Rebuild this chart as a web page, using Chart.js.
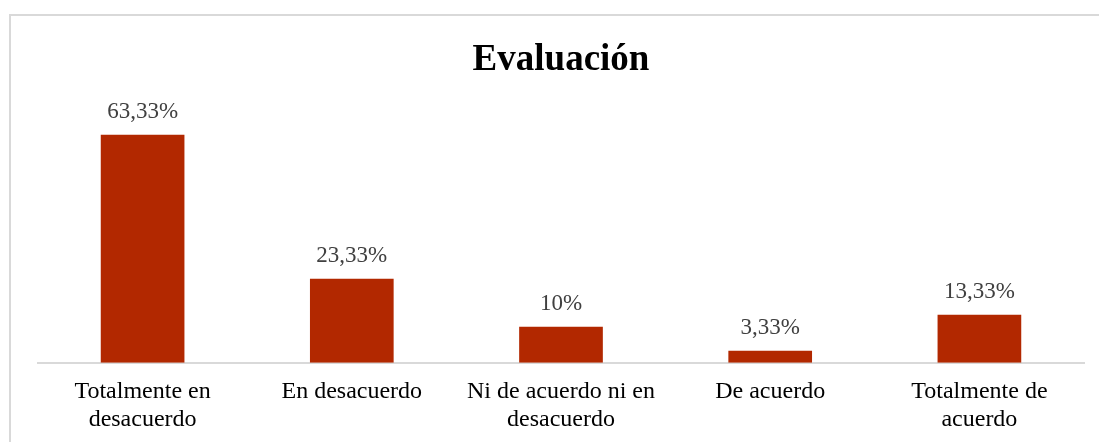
<!DOCTYPE html>
<html>
<head>
<meta charset="utf-8">
<script src="https://cdn.jsdelivr.net/npm/chart.js@4/dist/chart.umd.min.js"></script>
<style>
  html, body { margin: 0; padding: 0; background: #fff; }
  #wrap { width: 1099px; height: 442px; position: relative; }
</style>
</head>
<body>
<div id="wrap"><canvas id="evalChart"></canvas></div>
<script>
// Evaluation results (percent of respondents)
const categories = [
    ['Totalmente en', 'desacuerdo'],
    'En desacuerdo',
    ['Ni de acuerdo ni en', 'desacuerdo'],
    'De acuerdo',
    ['Totalmente de', 'acuerdo']
];
const percentages = [63.33, 23.33, 10, 3.33, 13.33];
const valueLabels = ['63,33%', '23,33%', '10%', '3,33%', '13,33%'];

const SERIF = '"Liberation Serif", "Times New Roman", serif';

// outer frame like the spreadsheet chart box
const frame = {
    id: 'frame',
    beforeDraw(chart) {
        const c = chart.ctx;
        c.save();
        c.fillStyle = '#fff';
        c.fillRect(0, 0, chart.width, chart.height);
        c.strokeStyle = '#d9d9d9';
        c.lineWidth = 2;
        c.strokeRect(10, 15, chart.width + 20, chart.height + 20);
        c.restore();
    }
};

// value labels above each bar
const barValues = {
    id: 'barValues',
    afterDatasetsDraw(chart) {
        const c = chart.ctx;
        const meta = chart.getDatasetMeta(0);
        c.save();
        c.font = '23px ' + SERIF;
        c.fillStyle = '#404040';
        c.textAlign = 'center';
        c.textBaseline = 'alphabetic';
        meta.data.forEach((bar, i) => {
            c.fillText(valueLabels[i], bar.x, bar.y - 17);
        });
        c.restore();
    }
};

new Chart(document.getElementById('evalChart'), {
    type: 'bar',
    data: {
        labels: categories,
        datasets: [{
            data: percentages,
            backgroundColor: '#b22800',
            borderWidth: 0,
            categoryPercentage: 0.8,
            barPercentage: 0.5
        }]
    },
    options: {
        responsive: true,
        maintainAspectRatio: false,
        animation: false,
        layout: { padding: { left: 38, right: 15, top: 0, bottom: 1 } },
        plugins: {
            legend: { display: false },
            tooltip: { enabled: false },
            title: {
                display: true,
                text: 'Evaluación',
                color: '#000',
                font: { family: SERIF, size: 37, weight: 'bold', lineHeight: 1.1 },
                padding: { top: 40, bottom: 30 }
            }
        },
        scales: {
            y: {
                display: false,
                min: 0,
                max: 70
            },
            x: {
                grid: { display: false },
                border: { display: true, color: '#d9d9d9', width: 2 },
                ticks: {
                    color: '#000',
                    font: { family: SERIF, size: 24, lineHeight: 1.17 },
                    maxRotation: 0,
                    autoSkip: false,
                    padding: 7
                }
            }
        }
    },
    plugins: [frame, barValues]
});
</script>
</body>
</html>
